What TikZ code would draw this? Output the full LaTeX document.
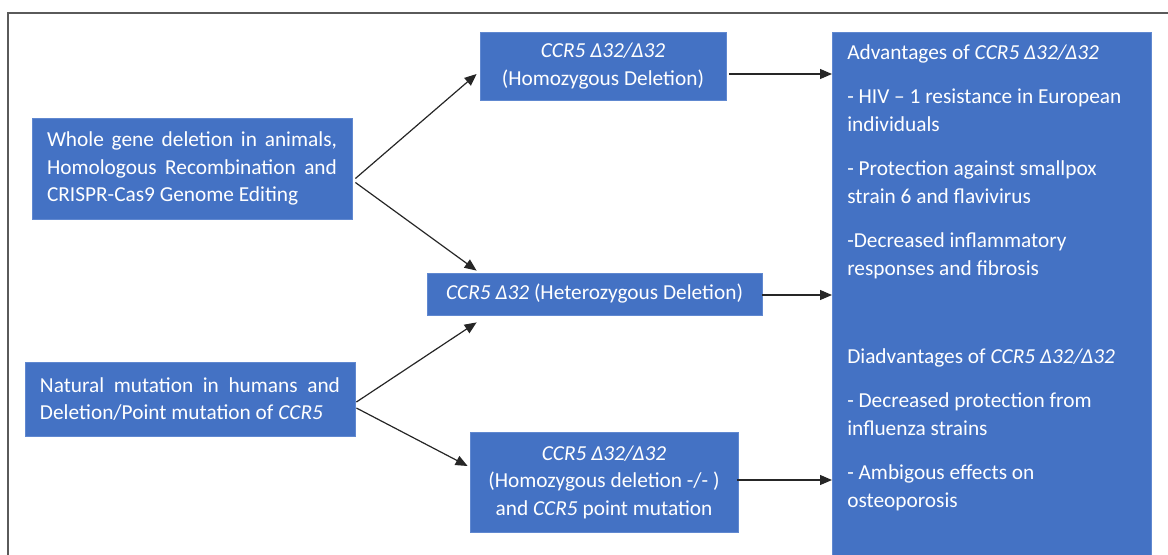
\documentclass[tikz,border=0pt]{standalone}
\usepackage{fontspec}
\setmainfont{Carlito}
\usetikzlibrary{positioning,calc,arrows.meta}
\definecolor{boxblue}{RGB}{68,114,196}
\definecolor{boxline}{RGB}{96,136,208}
\definecolor{framegray}{RGB}{90,90,90}
\tikzset{
box/.style={
  rectangle, draw=boxline, line width=0.6pt, fill=boxblue,
  text=white, inner xsep=11.25pt, inner ysep=0pt,
  font=\fontsize{16}{20.6}\selectfont
  },
note/.style={text=white, inner sep=0pt, align=left,
  font=\fontsize{16}{20.6}\selectfont},
arr/.style={-{Triangle[length=9pt,width=7.5pt]}, line width=0.9pt, draw=black!85},
%frame/.style={draw=framegray}
}

\begin{document}
\begin{tikzpicture}[x=0.75pt,y=-0.75pt]
    \useasboundingbox (0,0) rectangle (1168,554);
    \clip (0,0) rectangle (1168,554);
    \draw [framegray, line width=1.1pt] (8,560) -- (8,13) -- (1170,13);

    % sources on the left
    \node [box, text width=217.5pt, align=justify, minimum height=75.75pt] (whole) at (192,168.5)
        {Whole gene deletion in animals,\linebreak Homologous Recombination and\linebreak CRISPR-Cas9 Genome Editing};
    \node [box, text width=225pt, align=justify, minimum height=55.5pt] (natural) at (190,399)
        {Natural mutation in humans and\linebreak Deletion/Point mutation of \textit{CCR5}};

    % genotypes
    \node [box, align=center, minimum width=184.5pt, minimum height=51pt] (homo) at (603,66)
        {\textit{CCR5 Δ32/Δ32}\\(Homozygous Deletion)};
    \node [box, align=center, minimum width=251.25pt, minimum height=31.5pt] (hetero) at (594.5,294)
        {\textit{CCR5 Δ32} (Heterozygous Deletion)};
    \node [box, align=center, minimum width=201pt, minimum height=75pt] (point) at (604,482)
        {\textit{CCR5 Δ32/Δ32}\\(Homozygous deletion -/- )\\and \textit{CCR5} point mutation};

    % effects (base = last line)
    \node [box, anchor=north west, minimum width=239.25pt, minimum height=405pt] (effects) at (832,32) {};
    \node [note, anchor=base west] (adv) at (847,275)
        {Advantages of \textit{CCR5 Δ32/Δ32}\\[12.75pt]
         - HIV – 1 resistance in European\\individuals\\[12.75pt]
         - Protection against smallpox\\strain 6 and flavivirus\\[12.75pt]
         -Decreased inflammatory\\responses and fibrosis};
    \node [note, anchor=base west] (disadv) at (847,507)
        {Diadvantages of \textit{CCR5 Δ32/Δ32}\\[12.75pt]
         - Decreased protection from\\influenza strains\\[12.75pt]
         - Ambigous effects on\\osteoporosis};

    \draw [arr] ($(whole.east)+(3,10)$) -- ($(homo.west)+(-3,8)$);
    \draw [arr] ($(whole.east)+(3,14)$) -- ($(hetero.north west)+(50,-2)$);
    \draw [arr] ($(natural.east)+(1,3)$) -- ($(hetero.south west)+(50,7)$);
    \draw [arr] ($(natural.east)+(1,9)$) -- ($(point.west)+(-2,-16)$);

    \draw [arr] ($(homo.east)+(3,8)$) coordinate (h1) -- (h1 -| effects.west);
    \draw [arr] ($(hetero.east)+(0,1)$) coordinate (h2) -- (h2 -| effects.west);
    \draw [arr] ($(point.east)+(-1,-2)$) coordinate (h3) -- (h3 -| effects.west);

\end{tikzpicture}
\end{document}
